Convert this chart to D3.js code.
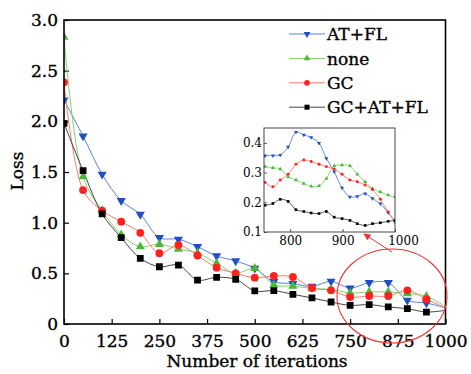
<!DOCTYPE html>
<html>
<head>
<meta charset="utf-8">
<script src="https://cdn.jsdelivr.net/npm/d3@7"></script>
<style>
  body { margin: 0; background: #fff; }
  svg { display: block; font-family: "DejaVu Serif", serif; }
  .thick { stroke: #000; stroke-width: 0.35px; }
</style>
</head>
<body>
<svg id="chart" width="471" height="374"></svg>
<script>
// Main chart data (loss every 50 iterations)
const iters = [0, 50, 100, 150, 200, 250, 300, 350, 400, 450, 500, 550, 600, 650, 700, 750, 800, 850, 900, 950, 1000];
const atfl   = [2.21, 1.855, 1.477, 1.217, 1.081, 0.852, 0.836, 0.763, 0.671, 0.622, 0.55, 0.418, 0.398, 0.37, 0.421, 0.355, 0.408, 0.408, 0.234, 0.207, 0.16];
const none   = [2.83, 1.454, 1.12, 0.88, 0.763, 0.787, 0.74, 0.70, 0.599, 0.50, 0.549, 0.385, 0.375, 0.35, 0.342, 0.306, 0.316, 0.316, 0.30, 0.273, 0.17];
const gc     = [2.385, 1.322, 1.118, 1.01, 0.90, 0.698, 0.78, 0.676, 0.556, 0.50, 0.457, 0.474, 0.464, 0.355, 0.332, 0.266, 0.276, 0.276, 0.332, 0.244, 0.16];
const gcatfl = [1.98, 1.513, 1.086, 0.852, 0.648, 0.565, 0.582, 0.434, 0.461, 0.441, 0.326, 0.329, 0.293, 0.257, 0.217, 0.184, 0.191, 0.168, 0.151, 0.118, 0.135];

// Inset data (zoom on the last iterations)
const insetIters  = [752, 767, 781, 796, 811, 826, 840, 855, 869, 884, 899, 914, 928, 943, 957, 972, 987, 1000];
const insetAtfl   = [0.357, 0.357, 0.359, 0.386, 0.436, 0.427, 0.418, 0.399, 0.348, 0.303, 0.248, 0.218, 0.220, 0.229, 0.213, 0.195, 0.165, 0.133];
const insetNone   = [0.320, 0.316, 0.312, 0.286, 0.275, 0.263, 0.254, 0.255, 0.280, 0.323, 0.325, 0.323, 0.294, 0.269, 0.246, 0.235, 0.224, 0.218];
const insetGc     = [0.267, 0.252, 0.275, 0.294, 0.328, 0.342, 0.337, 0.328, 0.320, 0.312, 0.294, 0.275, 0.269, 0.258, 0.243, 0.210, 0.167, 0.138];
const insetGcatfl = [0.190, 0.196, 0.210, 0.203, 0.175, 0.169, 0.164, 0.162, 0.169, 0.150, 0.145, 0.139, 0.128, 0.122, 0.128, 0.131, 0.136, 0.139];

// Tick labels
const xTicks = [0, 125, 250, 375, 500, 625, 750, 875, 1000];
const yTicks = [0, 0.5, 1.0, 1.5, 2.0, 2.5, 3.0];
const insetXTicks = [800, 900, 1000];
const insetYTicks = [0.1, 0.2, 0.3, 0.4];

const series = [
    { name: "AT+FL",    values: atfl,   inset: insetAtfl,   line: "#5a80d8", fill: "#1f4fc0", shape: "down" },
    { name: "none",     values: none,   inset: insetNone,   line: "#80d06a", fill: "#4cb83a", shape: "up" },
    { name: "GC",       values: gc,     inset: insetGc,     line: "#ff7a66", fill: "#ff2020", shape: "circle" },
    { name: "GC+AT+FL", values: gcatfl, inset: insetGcatfl, line: "#444444", fill: "#000000", shape: "square" }
];

const svg = d3.select("#chart");

const x = d3.scaleLinear().domain([0, 1000]).range([64, 445.5]);
const y = d3.scaleLinear().domain([0, 3]).range([324, 20]);

// Marker path for a given shape and area
function markerPath(shape, size) {
    if (shape === "circle") return d3.symbol(d3.symbolCircle, size)();
    if (shape === "square") return d3.symbol(d3.symbolSquare, size)();
    return d3.symbol(d3.symbolTriangle, size)();
}
function markerTransform(shape, px, py) {
    return shape === "down" ? `translate(${px},${py}) rotate(180)` : `translate(${px},${py})`;
}

const mainSize = { down: 36, up: 36, circle: 48, square: 46 };

// Axes (ticks pointing inward)
const xAxis = svg.append("g")
    .attr("transform", "translate(0,324)")
    .call(d3.axisBottom(x).tickValues(xTicks).tickSize(-5).tickPadding(11).tickFormat(d3.format("d")));
const yAxis = svg.append("g")
    .attr("transform", "translate(64,0)")
    .call(d3.axisLeft(y).tickValues(yTicks).tickSize(-5).tickPadding(6)
        .tickFormat(d => d === 0 ? "0" : d.toFixed(1)));
[xAxis, yAxis].forEach(a => {
    a.select(".domain").remove();
    a.selectAll("line").attr("stroke", "#000").attr("stroke-width", 1.2);
    a.selectAll("text").attr("class", "thick")
        .attr("font-family", "DejaVu Serif").attr("font-size", 17).attr("fill", "#000");
});

// Lines
const line = d3.line()
    .x((d, i) => x(iters[i]))
    .y(d => y(d))
    .curve(d3.curveCatmullRom.alpha(0.5));

svg.append("defs").append("clipPath").attr("id", "plotclip")
    .append("rect").attr("x", 64).attr("y", 20).attr("width", 381.5).attr("height", 304);

const plot = svg.append("g").attr("clip-path", "url(#plotclip)");

series.forEach(s => {
    plot.append("path")
        .attr("d", line(s.values))
        .attr("fill", "none")
        .attr("stroke", s.line)
        .attr("stroke-width", 1);
});

// Markers (no marker on the last point at 1000)
series.forEach(s => {
    plot.selectAll(null)
        .data(s.values.slice(0, -1))
        .enter()
        .append("path")
        .attr("d", markerPath(s.shape, mainSize[s.shape]))
        .attr("transform", (d, i) => markerTransform(s.shape, x(iters[i]), y(d)))
        .attr("fill", s.fill);
});

// Frame
svg.append("rect")
    .attr("x", 64).attr("y", 20).attr("width", 381.5).attr("height", 304)
    .attr("fill", "none").attr("stroke", "#000").attr("stroke-width", 1.6);

// Axis titles
svg.append("text")
    .attr("class", "thick")
    .attr("x", 257).attr("y", 367)
    .attr("text-anchor", "middle")
    .attr("font-size", 17)
    .text("Number of iterations");
svg.append("text")
    .attr("class", "thick")
    .attr("transform", "translate(23,171) rotate(-90)")
    .attr("text-anchor", "middle")
    .attr("font-size", 17)
    .text("Loss");

// Legend
const legend = svg.append("g");
series.forEach((s, i) => {
    const ly = 34 + i * 24.4;
    legend.append("line")
        .attr("x1", 289).attr("x2", 325).attr("y1", ly).attr("y2", ly)
        .attr("stroke", s.line).attr("stroke-width", 1);
    legend.append("path")
        .attr("d", markerPath(s.shape, mainSize[s.shape] * 0.55))
        .attr("transform", markerTransform(s.shape, 307, ly))
        .attr("fill", s.fill);
    legend.append("text")
        .attr("class", "thick")
        .attr("x", 327).attr("y", ly).attr("dy", "0.36em")
        .attr("font-size", 17)
        .text(s.name);
});

// Inset
const ix = d3.scaleLinear().domain([750, 1000]).range([264, 395]);
const iy = d3.scaleLinear().domain([0.1, 0.45]).range([232, 128]);

svg.append("rect")
    .attr("x", 264).attr("y", 128).attr("width", 131).attr("height", 104)
    .attr("fill", "#fff");

const ixAxis = svg.append("g")
    .attr("transform", "translate(0,232)")
    .call(d3.axisBottom(ix).tickValues(insetXTicks).tickSize(-3).tickPadding(4.5).tickFormat(d3.format("d")));
const iyAxis = svg.append("g")
    .attr("transform", "translate(264,0)")
    .call(d3.axisLeft(iy).tickValues(insetYTicks).tickSize(-3).tickPadding(2).tickFormat(d3.format(".1f")));
[ixAxis, iyAxis].forEach(a => {
    a.select(".domain").remove();
    a.selectAll("line").attr("stroke", "#333").attr("stroke-width", 0.8);
    a.selectAll("text").attr("font-family", "DejaVu Serif").attr("font-size", 12).attr("fill", "#000");
});
// last label sits a bit to the right in the original
ixAxis.selectAll("text").filter(d => d === 1000).attr("dx", 8);

svg.select("defs").append("clipPath").attr("id", "insetclip")
    .append("rect").attr("x", 264).attr("y", 128).attr("width", 131).attr("height", 104);

const insetG = svg.append("g").attr("clip-path", "url(#insetclip)");
const insetLine = d3.line()
    .x((d, i) => ix(insetIters[i]))
    .y(d => iy(d))
    .curve(d3.curveCatmullRom.alpha(0.5));

series.forEach(s => {
    insetG.append("path")
        .attr("d", insetLine(s.inset))
        .attr("fill", "none")
        .attr("stroke", s.line)
        .attr("stroke-width", 0.9);
    insetG.selectAll(null)
        .data(s.inset)
        .enter()
        .append("path")
        .attr("d", markerPath(s.shape, 7))
        .attr("transform", (d, i) => markerTransform(s.shape, ix(insetIters[i]), iy(d)))
        .attr("fill", s.fill);
});

svg.append("rect")
    .attr("x", 264).attr("y", 128).attr("width", 131).attr("height", 104)
    .attr("fill", "none").attr("stroke", "#333").attr("stroke-width", 0.9);

// Red ellipse and arrow pointing to the inset
svg.select("defs").append("marker")
    .attr("id", "arrow")
    .attr("viewBox", "0 0 10 10")
    .attr("refX", 9).attr("refY", 5)
    .attr("markerWidth", 7).attr("markerHeight", 7)
    .attr("markerUnits", "userSpaceOnUse")
    .attr("orient", "auto")
    .append("path")
    .attr("d", "M0,0 L10,5 L0,10 z")
    .attr("fill", "#ee3333");

svg.append("ellipse")
    .attr("cx", 392).attr("cy", 296).attr("rx", 55).attr("ry", 47)
    .attr("fill", "none").attr("stroke", "#ee3333").attr("stroke-width", 1.1);

svg.append("line")
    .attr("x1", 392).attr("y1", 252).attr("x2", 364).attr("y2", 234)
    .attr("stroke", "#ee3333").attr("stroke-width", 1)
    .attr("marker-end", "url(#arrow)");
</script>
</body>
</html>
